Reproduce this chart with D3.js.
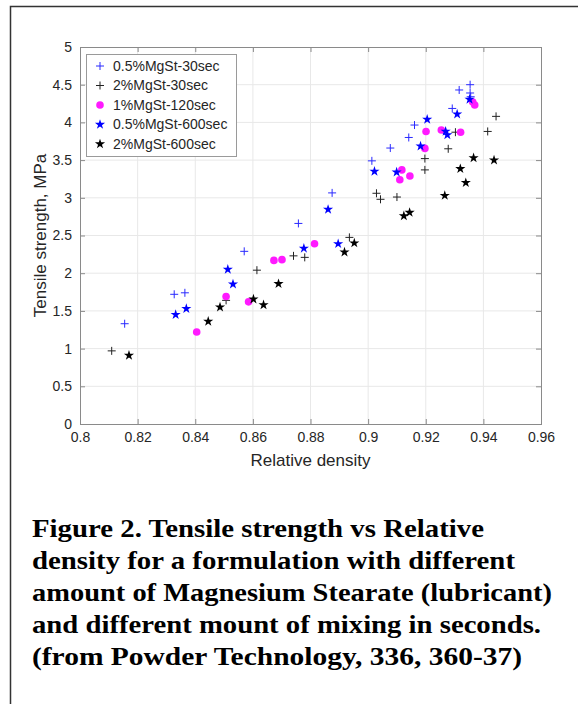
<!DOCTYPE html>
<html><head><meta charset="utf-8">
<script src="https://cdn.jsdelivr.net/npm/d3@7"></script>
<style>body{margin:0;background:#fff}</style>
</head><body>
<svg id="c" width="578" height="704"></svg>
<script>
// ---- data ----
const seriesNames = ["0.5%MgSt-30sec", "2%MgSt-30sec", "1%MgSt-120sec", "0.5%MgSt-600sec", "2%MgSt-600sec"];

const s1X = [0.8155, 0.8327, 0.8364, 0.857, 0.8758, 0.8875, 0.9013, 0.9077, 0.9141, 0.9161, 0.9292, 0.9316, 0.9354, 0.9354, 0.9356];
const s1Y = [1.33, 1.72, 1.74, 2.29, 2.66, 3.065, 3.49, 3.66, 3.80, 3.965, 4.185, 4.43, 4.50, 4.39, 4.34];

const s2X = [0.811, 0.8507, 0.8614, 0.8741, 0.878, 0.8935, 0.9029, 0.9043, 0.9100, 0.9197, 0.9197, 0.9278, 0.9303, 0.9415, 0.9444];
const s2Y = [0.97, 1.64, 2.04, 2.23, 2.21, 2.475, 3.06, 2.98, 3.01, 3.37, 3.52, 3.65, 3.87, 3.88, 4.08];

const s3X = [0.8405, 0.8507, 0.8585, 0.8673, 0.8701, 0.8814, 0.911, 0.9117, 0.9145, 0.9197, 0.9201, 0.9254, 0.9321, 0.9363, 0.937];
const s3Y = [1.22, 1.69, 1.62, 2.17, 2.18, 2.39, 3.24, 3.37, 3.29, 3.655, 3.88, 3.90, 3.87, 4.27, 4.23];

const s4X = [0.8332, 0.8369, 0.8513, 0.8531, 0.8777, 0.8861, 0.8896, 0.9022, 0.9099, 0.9182, 0.9205, 0.9269, 0.9275, 0.9309, 0.9352];
const s4Y = [1.45, 1.53, 2.05, 1.855, 2.33, 2.845, 2.39, 3.35, 3.34, 3.685, 4.04, 3.88, 3.835, 4.11, 4.305];

const s5X = [0.817, 0.8445, 0.8486, 0.8602, 0.8637, 0.8689, 0.8918, 0.8952, 0.9124, 0.9144, 0.9266, 0.932, 0.9339, 0.9366, 0.9437];
const s5Y = [0.91, 1.36, 1.55, 1.655, 1.58, 1.86, 2.28, 2.40, 2.76, 2.805, 3.03, 3.385, 3.20, 3.53, 3.50];

const xTicks = [0.8, 0.82, 0.84, 0.86, 0.88, 0.9, 0.92, 0.94, 0.96];
const yTicks = [0, 0.5, 1, 1.5, 2, 2.5, 3, 3.5, 4, 4.5, 5];
const xLabel = "Relative density";
const yLabel = "Tensile strength, MPa";
const captionLines = [
  "Figure 2. Tensile strength vs Relative",
  "density for a formulation with different",
  "amount of Magnesium Stearate (lubricant)",
  "and different mount of mixing in seconds.",
  "(from Powder Technology, 336, 360-37)"
];

// ---- drawing ----
const svg = d3.select("#c");
const L = 80, R = 541, T = 47, B = 424;
const x = d3.scaleLinear().domain([0.8, 0.96]).range([L, R]);
const y = d3.scaleLinear().domain([0, 5]).range([B, T]);
const font = "'Liberation Sans', Arial, Helvetica, sans-serif";
const txtCol = "#262626";
const axCol = "#8a8a8a";

// outer frame (left and top edges visible)
svg.append("path").attr("d", "M10.5,704V6.5H578").attr("fill", "none")
  .attr("stroke", "#333").attr("stroke-width", 1.5);

// grid
const g = svg.append("g");
g.selectAll(".gx").data(xTicks.slice(1, -1)).join("line")
  .attr("x1", d => x(d)).attr("x2", d => x(d)).attr("y1", T).attr("y2", B)
  .attr("stroke", "#e8e8e8").attr("stroke-width", 1);
g.selectAll(".gy").data(yTicks.slice(1, -1)).join("line")
  .attr("x1", L).attr("x2", R).attr("y1", d => y(d)).attr("y2", d => y(d))
  .attr("stroke", "#e8e8e8").attr("stroke-width", 1);

// axes
function styleAxis(sel, showText) {
  sel.select(".domain").remove();
  sel.selectAll(".tick line").attr("stroke", axCol);
  sel.selectAll(".tick text").attr("fill", txtCol).style("font-family", font).style("font-size", "14px");
  if (!showText) sel.selectAll(".tick text").remove();
}
svg.append("g").attr("transform", `translate(0,${B})`)
  .call(d3.axisBottom(x).tickValues(xTicks).tickFormat(d3.format("")).tickSize(-5).tickPadding(8))
  .call(s => styleAxis(s, true));
svg.append("g").attr("transform", `translate(0,${T})`)
  .call(d3.axisTop(x).tickValues(xTicks).tickSize(-5))
  .call(s => styleAxis(s, false));
svg.append("g").attr("transform", `translate(${L},0)`)
  .call(d3.axisLeft(y).tickValues(yTicks).tickFormat(d3.format("")).tickSize(-5).tickPadding(8))
  .call(s => styleAxis(s, true));
svg.append("g").attr("transform", `translate(${R},0)`)
  .call(d3.axisRight(y).tickValues(yTicks).tickSize(-5))
  .call(s => styleAxis(s, false));

svg.append("rect").attr("x", L + 0.5).attr("y", T + 0.5).attr("width", R - L).attr("height", B - T)
  .attr("fill", "none").attr("stroke", axCol).attr("stroke-width", 1);

// axis labels
svg.append("text").attr("x", (L + R) / 2).attr("y", 466).attr("text-anchor", "middle")
  .attr("fill", txtCol).style("font-family", font).style("font-size", "17px").text(xLabel);
svg.append("text").attr("transform", `translate(46,${(T + B) / 2}) rotate(-90)`).attr("text-anchor", "middle")
  .attr("fill", txtCol).style("font-family", font).style("font-size", "17px").text(yLabel);

// markers
const starPath = d3.symbol(d3.symbolStar, 32)();
function drawMarker(sel, type) {
  if (type === "plusBlue" || type === "plusBlack") {
    sel.append("path").attr("d", "M-4,0H4M0,-4V4").attr("fill", "none")
      .attr("stroke", type === "plusBlue" ? "#2a2aff" : "#222").attr("stroke-width", 1);
  } else if (type === "circle") {
    sel.append("circle").attr("r", 3.8).attr("fill", "#ff1aff");
  } else {
    sel.append("path").attr("d", starPath).attr("fill", type === "starBlue" ? "#0000ff" : "#000");
  }
}
const series = [
  {xs: s1X, ys: s1Y, type: "plusBlue"},
  {xs: s2X, ys: s2Y, type: "plusBlack"},
  {xs: s3X, ys: s3Y, type: "circle"},
  {xs: s4X, ys: s4Y, type: "starBlue"},
  {xs: s5X, ys: s5Y, type: "starBlack"}
];
series.forEach(s => {
  const pts = s.xs.map((v, i) => [v, s.ys[i]]);
  svg.append("g").selectAll("g").data(pts).join("g")
    .attr("transform", d => `translate(${x(d[0])},${y(d[1])})`)
    .each(function () { drawMarker(d3.select(this), s.type); });
});

// legend
const lg = svg.append("g");
lg.append("rect").attr("x", 86.5).attr("y", 54.5).attr("width", 150).attr("height", 102)
  .attr("fill", "#fff").attr("stroke", "#9a9a9a").attr("stroke-width", 1);
seriesNames.forEach((n, i) => {
  const yy = 66 + i * 19.5;
  const e = lg.append("g").attr("transform", `translate(100,${yy})`);
  drawMarker(e, series[i].type);
  lg.append("text").attr("x", 113).attr("y", yy).attr("dy", "0.35em")
    .attr("fill", txtCol).style("font-family", font).style("font-size", "14px").text(n);
});

// caption
const capW = [452, 483, 520, 509, 490];
captionLines.forEach((t, i) => {
  svg.append("text").attr("x", 32).attr("y", 537 + i * 32)
    .attr("textLength", capW[i]).attr("lengthAdjust", "spacingAndGlyphs")
    .attr("fill", "#000").style("font-family", "'Liberation Serif', 'Times New Roman', serif").style("font-weight", "bold")
    .style("font-size", "25px").text(t);
});
</script>
</body></html>
